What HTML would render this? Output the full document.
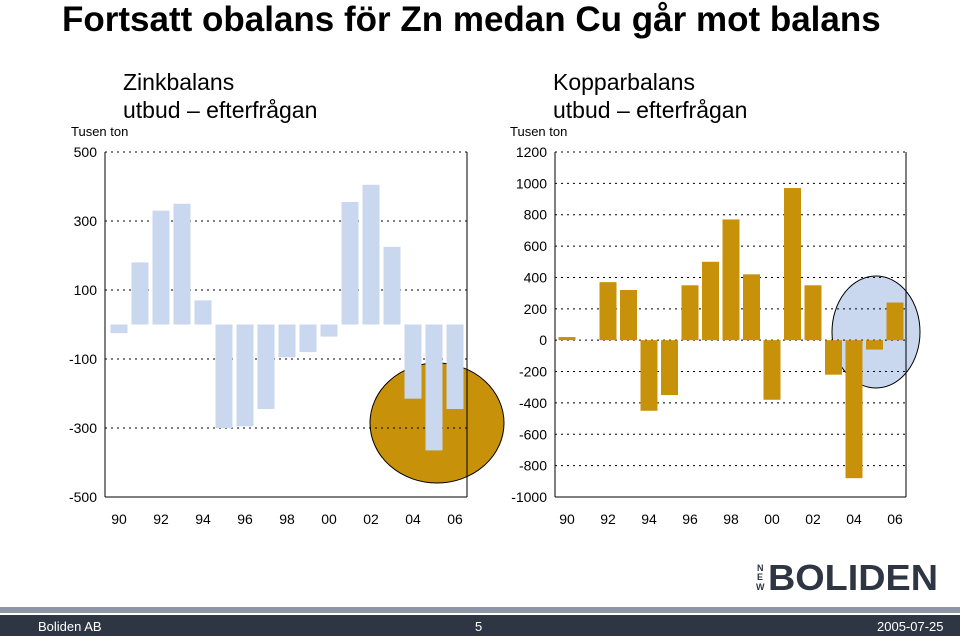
<!DOCTYPE html>
<html><head><meta charset="utf-8"><style>
body{margin:0;width:960px;height:636px;overflow:hidden;background:#fff;font-family:"Liberation Sans",sans-serif;position:relative}
.t{position:absolute;white-space:nowrap}
</style></head><body>
<div class="t" style="left:62px;top:0px;font-size:35px;font-weight:bold">Fortsatt obalans för Zn medan Cu går mot balans</div>
<svg width="960" height="636" style="position:absolute;left:0;top:0" font-family="Liberation Sans, sans-serif" id="s">
<g font-size="23"><text x="123" y="90">Zinkbalans</text><text x="123" y="118">utbud – efterfrågan</text></g>
<g font-size="23"><text x="553" y="90">Kopparbalans</text><text x="553" y="118">utbud – efterfrågan</text></g>
<text x="71" y="136" font-size="13">Tusen ton</text>
<text x="510" y="136" font-size="13">Tusen ton</text>
<g id="left"></g><g id="right"></g>
<g>
<text x="757" y="571" font-size="9" font-weight="bold" fill="#2e3644">N</text>
<text x="757" y="580" font-size="9" font-weight="bold" fill="#2e3644">E</text>
<text x="756" y="590" font-size="9" font-weight="bold" fill="#2e3644">W</text>
<text x="768" y="590" font-size="36" font-weight="bold" fill="#2e3644" textLength="170" lengthAdjust="spacingAndGlyphs">BOLIDEN</text>
</g>
<rect x="0" y="607" width="960" height="6" fill="#8c96a4"/>
<rect x="0" y="615" width="960" height="21" fill="#2e3644"/>
<text x="38" y="631" font-size="13" fill="#fff">Boliden AB</text>
<text x="475" y="631" font-size="13" fill="#fff">5</text>
<text x="877" y="631" font-size="13" fill="#fff">2005-07-25</text>
</svg>
<script>
const years=["90","91","92","93","94","95","96","97","98","99","00","01","02","03","04","05","06"];
const xLabels=["90","92","94","96","98","00","02","04","06"];
const zincValues=[-25,180,330,350,70,-300,-295,-245,-95,-80,-35,355,405,225,-215,-365,-245];
const zincTicks=[500,300,100,-100,-300,-500];
const copperValues=[20,0,370,320,-450,-350,350,500,770,420,-380,970,350,-220,-880,-60,240];
const copperTicks=[1200,1000,800,600,400,200,0,-200,-400,-600,-800,-1000];
const NS="http://www.w3.org/2000/svg";
function mk(p,tag,a){const e=document.createElementNS(NS,tag);for(const k in a)e.setAttribute(k,a[k]);p.appendChild(e);return e;}
function chart(g,o){
 const y=v=>o.y0+(o.max-v)*(o.y1-o.y0)/(o.max-o.min);
 const x=i=>o.xs+i*o.step;
 if(o.ellBehind){const e=mk(g,'ellipse',o.ell);}
 o.ticks.forEach(t=>{
  const l=mk(g,'line',{x1:o.x0,x2:o.x1,y1:y(t),y2:y(t),stroke:'#000','stroke-dasharray':'2,4','stroke-width':1});
  
  const tx=mk(g,'text',{x:o.x0-8,y:y(t)+5,'text-anchor':'end','font-size':14});tx.textContent=t;
  
 });
 o.vals.forEach((v,i)=>{
  const r=mk(g,'rect',{x:x(i)-8.5,y:Math.min(y(v),y(0)),width:17,height:Math.abs(y(v)-y(0)),fill:o.color});
  
 });
 if(!o.ellBehind){const e=mk(g,'ellipse',o.ell);}
 const ax=mk(g,'line',{x1:o.x0,x2:o.x1,y1:y(o.min),y2:y(o.min),stroke:'#000'});
 const ay=mk(g,'line',{x1:o.x0,x2:o.x0,y1:o.y0,y2:o.y1,stroke:'#000'});
 const ar=mk(g,'line',{x1:o.x1,x2:o.x1,y1:o.y0,y2:o.y1,stroke:'#000'});
 xLabels.forEach((l,i)=>{const t=mk(g,'text',{x:x(i*2),y:o.y1+27,'text-anchor':'middle','font-size':14});t.textContent=l;
  });
}
chart(document.getElementById('left'),{vals:zincValues,ticks:zincTicks,max:500,min:-500,y0:152,y1:497,x0:105,x1:467,xs:119,step:21,color:'#c9d7ef',ellBehind:true,
 ell:{cx:437,cy:423,rx:67,ry:60,fill:'#c8910a',stroke:'#000'}});
chart(document.getElementById('right'),{vals:copperValues,ticks:copperTicks,max:1200,min:-1000,y0:152,y1:497,x0:555,x1:906,xs:567,step:20.5,color:'#c8910a',ellBehind:true,
 ell:{cx:876,cy:332,rx:44,ry:56,fill:'#c9d7ef',stroke:'#000'}});
</script>
</body></html>
